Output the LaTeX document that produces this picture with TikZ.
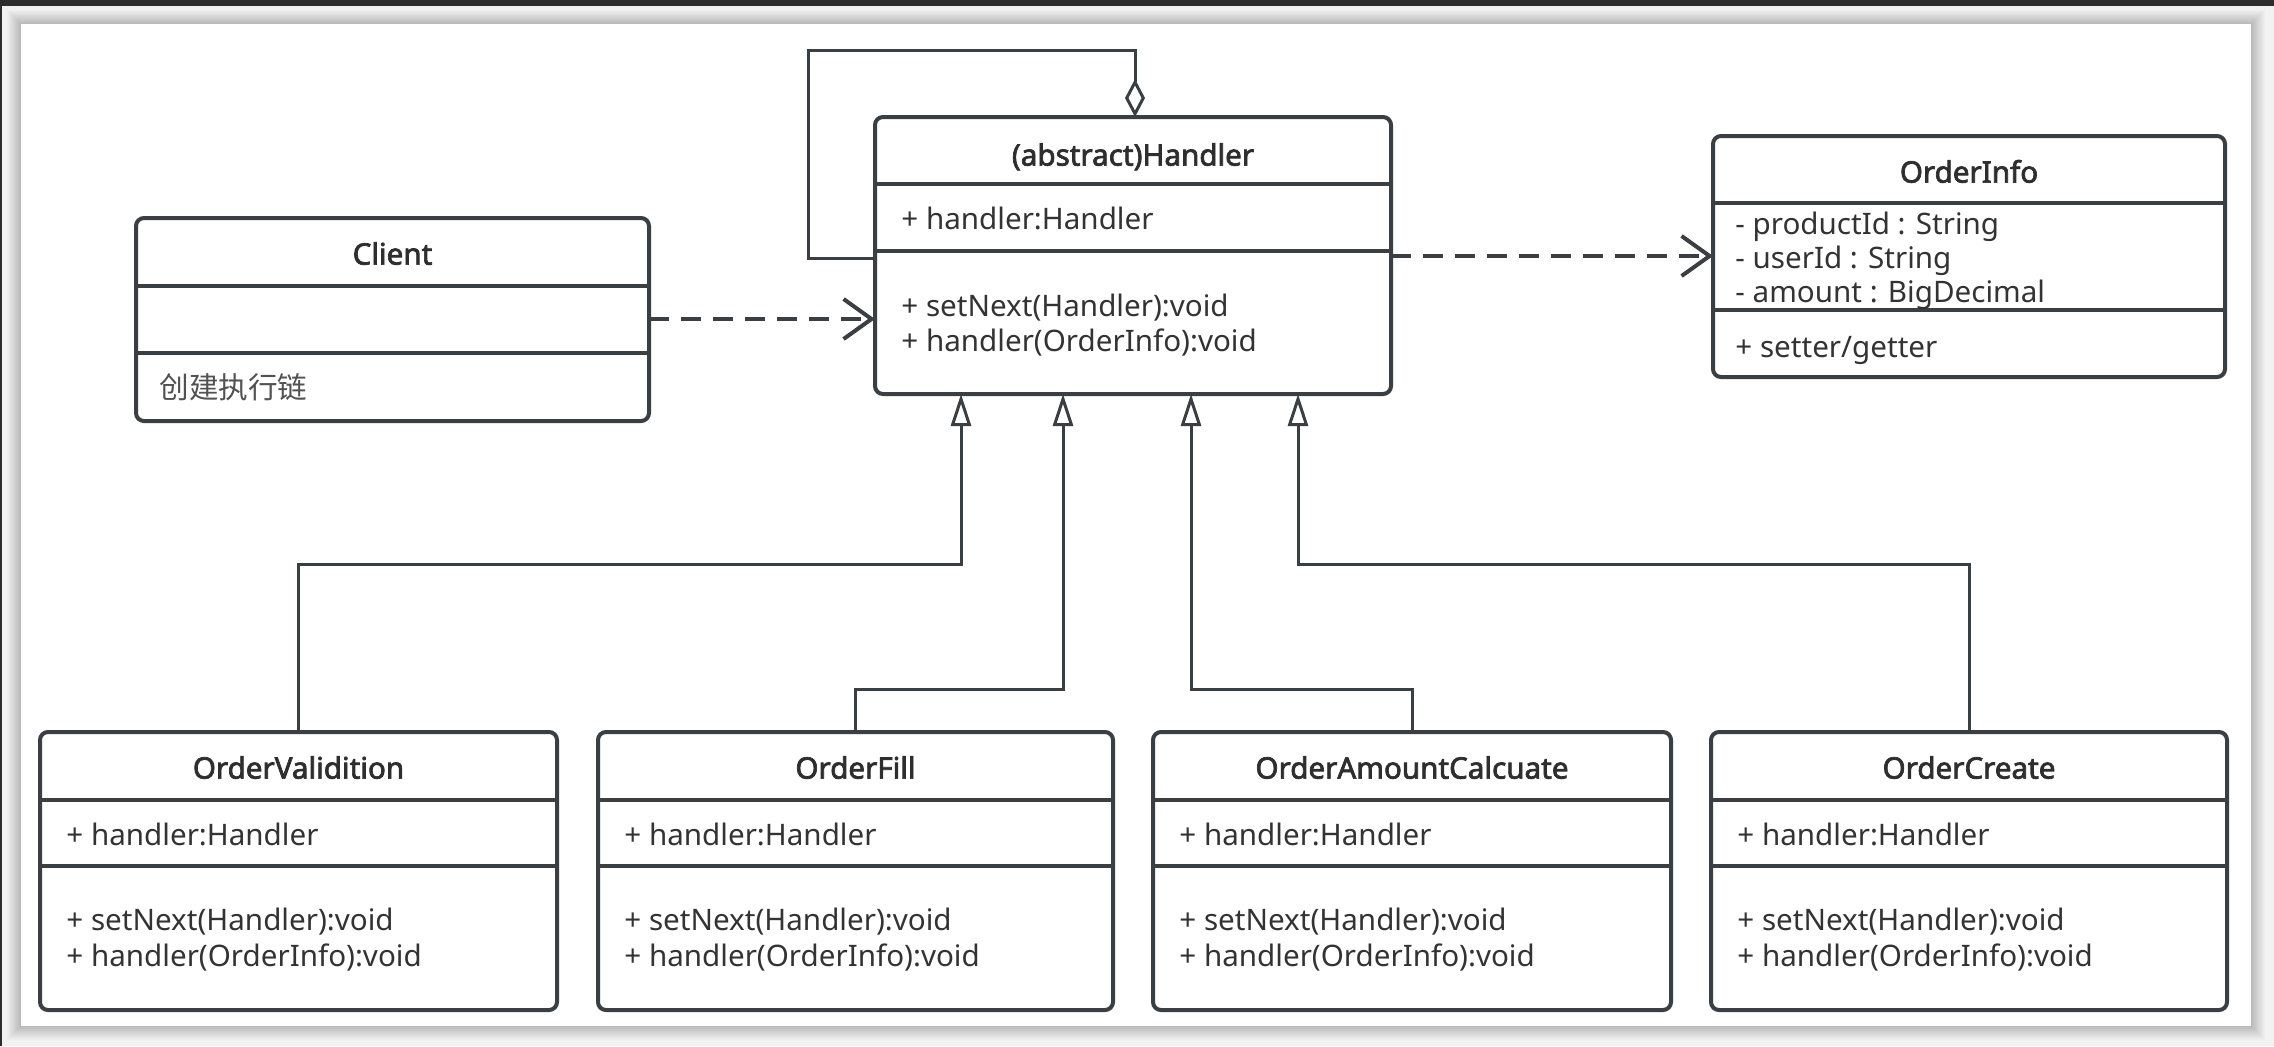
\documentclass[tikz,border=0pt]{standalone}
\usepackage{fontspec}
\setmainfont{Noto Sans}
\newfontfamily\cjk{Noto Sans CJK SC}
\newfontfamily\titlefont{Noto Sans}[FakeBold=2.4]
\usetikzlibrary{arrows.meta}
\definecolor{linec}{HTML}{3A3F44}
\definecolor{txt}{HTML}{333333}
\definecolor{bgc}{HTML}{F2F2F2}
\definecolor{darkbar}{HTML}{2D2D2D}
\tikzset{
  cls/.style={draw=linec, line width=2pt, rounded corners=4pt, fill=white,
    inner sep=0pt, outer sep=0pt, anchor=north west},
  divider/.style={draw=linec, line width=2pt},
  ctitle/.style={font=\fontsize{14.8}{17}\titlefont, text=txt!90!black,
    inner sep=0pt, text height=10.6pt, text depth=0pt},
  member/.style={font=\fontsize{14.8}{17}\selectfont, text=txt, inner sep=0pt,
    anchor=west, text height=10.6pt, text depth=0pt},
  inh/.style={draw=linec, line width=1.5pt, -{Triangle[open, length=16pt, width=10pt]}},
  agg/.style={draw=linec, line width=1.5pt, -{Diamond[open, length=19pt, width=10pt]}},
  dep/.style={draw=linec, line width=2pt, dash pattern=on 10pt off 6pt,
    -{Straight Barb[length=14pt, width=20pt]}}
}
\begin{document}
\begin{tikzpicture}[x=0.5pt,y=-0.5pt]
\useasboundingbox (0,0) rectangle (2274,1046);
% background and canvas
\fill[bgc] (0,0) rectangle (2274,1046);
\foreach \i in {1,...,14} {
  \fill[black,opacity=0.016] (21-\i,24-\i) rectangle (2251+\i,1026+\i);
}
\fill[darkbar] (0,0) rectangle (2274,6);
\fill[darkbar] (0,0) rectangle (2,1046);
\fill[white] (21,24) rectangle (2251,1026);

% ---- Handler ----
\node[cls, minimum width=258pt, minimum height=138.5pt] (handler) at (875,117) {};
\draw[divider] (handler.west |- 0,184) -- (handler.east |- 0,184);
\draw[divider] (handler.west |- 0,251) -- (handler.east |- 0,251);
\node[ctitle] (handlerT) at (1133,155) {(abstract)Handler};
\node[member] (handlerA) at (901,219) {+ handler:Handler};
\node[member] (handlerM1) at (901,306) {+ setNext(Handler):void};
\node[member] (handlerM2) at (901,341) {+ handler(OrderInfo):void};

% ---- Client ----
\node[cls, minimum width=256.5pt, minimum height=101.5pt] (client) at (136,218) {};
\draw[divider] (client.west |- 0,286) -- (client.east |- 0,286);
\draw[divider] (client.west |- 0,353) -- (client.east |- 0,353);
\node[ctitle] (clientT) at (392.5,254) {Client};
\node[member, text=txt!85] (clientM) at (159,388) {\cjk 创建执行链};

% ---- OrderInfo ----
\node[cls, minimum width=256pt, minimum height=120.5pt] (oinfo) at (1713,136) {};
\draw[divider] (oinfo.west |- 0,203) -- (oinfo.east |- 0,203);
\draw[divider] (oinfo.west |- 0,310) -- (oinfo.east |- 0,310);
\node[ctitle] (oinfoT) at (1969,172) {OrderInfo};
\node[member] (oinfoA1) at (1735,224) {- productId : String};
\node[member] (oinfoA2) at (1735,258) {- userId : String};
\node[member] (oinfoA3) at (1735,292) {- amount : BigDecimal};
\node[member] (oinfoM) at (1735,347) {+ setter/getter};

% ---- bottom classes ----
\foreach \nm/\x/\w/\t in {ov/40/258.5/OrderValidition, of/598/257.5/OrderFill,
    oac/1153/259/OrderAmountCalcuate, oc/1711/258/OrderCreate} {
  \node[cls, minimum width=\w pt, minimum height=139pt] (\nm) at (\x,732) {};
  \draw[divider] (\nm.west |- 0,800) -- (\nm.east |- 0,800);
  \draw[divider] (\nm.west |- 0,866) -- (\nm.east |- 0,866);
  \node[ctitle] (\nm T) at (\nm.north |- 0,768) {\t};
  \node[member] (\nm A) at ([xshift=13pt]\nm.west |- 0,835) {+ handler:Handler};
  \node[member] (\nm M1) at ([xshift=13pt]\nm.west |- 0,920) {+ setNext(Handler):void};
  \node[member] (\nm M2) at ([xshift=13pt]\nm.west |- 0,956) {+ handler(OrderInfo):void};
}

% ---- connectors ----
\draw[agg] (handler.west |- 0,258) -- (808,258) -- (808,50) -- (1135,50) -- (1135,0 |- handler.north);
\draw[dep] (client.east |- 0,319) -- (handler.west |- 0,319);
\draw[dep] (handler.east |- 0,256) -- (oinfo.west |- 0,256);

\draw[inh] (ov.north) |- (961,564) -- (961,0 |- handler.south);
\draw[inh] (of.north) |- (1063,689) -- (1063,0 |- handler.south);
\draw[inh] (oac.north) |- (1191,689) -- (1191,0 |- handler.south);
\draw[inh] (oc.north) |- (1298,564) -- (1298,0 |- handler.south);
\end{tikzpicture}
\end{document}
